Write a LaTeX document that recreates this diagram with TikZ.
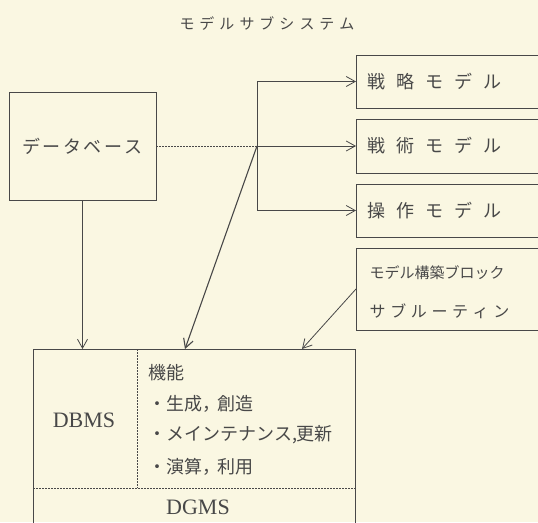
\documentclass[tikz,border=0pt]{standalone}
\usepackage{fontspec}
\setmainfont{Liberation Serif}
\newfontfamily\jp{Noto Sans CJK JP}
\usetikzlibrary{arrows.meta}
\definecolor{paper}{RGB}{250,247,226}
\definecolor{ink}{RGB}{72,72,72}
\makeatletter
\newcommand\sptext[2]{\def\sp@gap{#1}\let\sp@sep\relax\@tfor\sp@c:=#2\do{\sp@sep\sp@c\def\sp@sep{\hspace{\sp@gap}}}}
\makeatother
\begin{document}
\begin{tikzpicture}[x=1pt,y=-1pt,
  line width=0.8pt,
  >={Straight Barb[length=9pt,width=10pt]},
  box/.style={draw=ink, line width=0.8pt, inner sep=0pt},
  jtext/.style={font=\jp\fontsize{18}{22}\selectfont, text=ink},
  mbox/.style={box, anchor=west, minimum width=200pt, text width=178pt, inner xsep=11pt, align=left, jtext},
  dots/.style={draw=ink, line width=0.8pt, dash pattern=on 1.5pt off 1.5pt},
  conn/.style={draw=ink, line width=0.8pt, ->}]
\useasboundingbox (0,0) rectangle (538,522);
\fill[paper] (0,0) rectangle (538,522);
\clip (0,0) rectangle (538,522);

\node[jtext, font=\jp\fontsize{15}{17}\selectfont] (title) at (267,23) {\sptext{5pt}{モデルサブシステム}};

\node[box, jtext, minimum width=147pt, minimum height=108pt] (db) at (82.5,146) {\sptext{2.4pt}{データベース}};

\node[mbox, minimum height=53pt] (m1) at (356,81.5) {\sptext{11pt}{戦略モデル}};
\node[mbox, minimum height=54pt] (m2) at (356,146) {\sptext{11pt}{戦術モデル}};
\node[mbox, minimum height=53pt] (m3) at (356,210.5) {\sptext{11pt}{操作モデル}};
\node[box, anchor=west, minimum width=200pt, minimum height=82pt] (m4) at (356,289) {};
\node[jtext, anchor=west, font=\jp\fontsize{15}{18}\selectfont] (m4a) at (366,273) {モデル構築ブロック};
\node[jtext, anchor=west, font=\jp\fontsize{16}{18}\selectfont] (m4b) at (366,311) {\sptext{4.6pt}{サブルーティン}};

\node[box, anchor=north west, minimum width=322pt, minimum height=200pt] (main) at (33,349) {};
\draw[dots] (137,349) -- (137,488);
\draw[dots] (33,488) -- (355,488);
\node[font=\fontsize{22}{24}\selectfont, text=ink] (dbms) at (84,420) {DBMS};
\node[font=\fontsize{22}{24}\selectfont, text=ink] (dgms) at (198,507) {DGMS};
\node[jtext, anchor=west] (f0) at (145,373) {機能};
\node[jtext, anchor=west] (f1) at (145,404) {・生成，\hspace{-3pt}創造};
\node[jtext, anchor=west] (f2) at (145,435) {・メインテナンス,\hspace{-1pt}更新};
\node[jtext, anchor=west] (f3) at (145,467) {・演算，\hspace{-3pt}利用};

\coordinate (J) at (257,146);
\coordinate (t2) at (185,349);
\coordinate (t3) at (302,349);
\draw[dots] (db.east) -- (J);
\draw[conn] (J) |- (m1.west);
\draw[conn] (J) -- (m2.west);
\draw[conn] (J) |- (m3.west);
\draw[conn] (db.south) -- (db.south |- main.north);
\draw[conn, line width=1.1pt] (J) -- (t2);
\draw[conn] (m4.west) -- (t3);
\end{tikzpicture}
\end{document}
